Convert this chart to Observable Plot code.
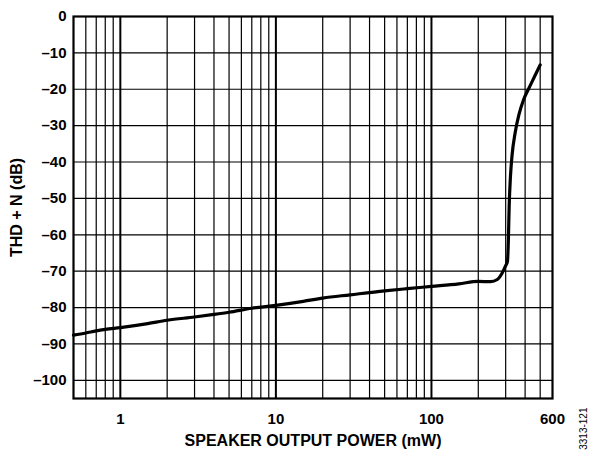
<!DOCTYPE html>
<html>
<head>
<meta charset="utf-8">
<script src="https://cdn.jsdelivr.net/npm/d3@7"></script>
<script src="https://cdn.jsdelivr.net/npm/@observablehq/plot@0.6"></script>
<style>
  html, body { margin: 0; padding: 0; background: #fff; }
  #chart svg text { font-weight: bold; }
</style>
</head>
<body>
<div id="chart"></div>
<script>
// Data (power in mW, THD+N in dB)
const power = [0.5, 0.6, 0.7, 0.8, 1, 1.5, 2, 3, 4, 5, 7, 10, 15, 20, 30, 50, 70, 100, 150, 200, 240, 265, 285, 300, 308, 312, 316, 322, 330, 345, 365, 390, 420, 460, 500];
const thdn  = [-87.6, -87.0, -86.4, -86.0, -85.5, -84.4, -83.5, -82.6, -81.9, -81.3, -80.2, -79.4, -78.3, -77.4, -76.5, -75.4, -74.8, -74.2, -73.5, -72.8, -72.9, -72.3, -70.5, -68.5, -67.3, -62, -52, -44, -38, -32, -27, -23, -20, -16.5, -13.3];

const xGrid = [0.6, 0.7, 0.8, 0.9, 2, 3, 4, 5, 6, 7, 8, 9, 20, 30, 40, 50, 60, 70, 80, 90, 200, 300, 400, 500];
const xMajor = [1, 10, 100];
const xTicks = [1, 10, 100, 600];
const yTicks = [0, -10, -20, -30, -40, -50, -60, -70, -80, -90, -100];
const yGrid = [-10, -20, -30, -40, -50, -60, -70, -80, -90, -100];
const xTitle = "SPEAKER OUTPUT POWER (mW)";
const yTitle = "THD + N (dB)";
const figId = "3313-121";

const data = power.map((p, i) => ({power: p, thdn: thdn[i]}));

const chart = Plot.plot({
  width: 595,
  height: 452,
  marginLeft: 73,
  marginRight: 43,
  marginTop: 16,
  marginBottom: 54,
  style: {fontFamily: "'Liberation Sans', Arial, sans-serif", fontWeight: "bold", fontSize: "15px", color: "#000", background: "#fff"},
  x: {type: "log", domain: [0.5, 600]},
  y: {domain: [-105, 0]},
  marks: [
    Plot.ruleX(xGrid, {stroke: "#000", strokeWidth: 1.2}),
    Plot.ruleX(xMajor, {stroke: "#000", strokeWidth: 2}),
    Plot.ruleY(yGrid, {stroke: "#000", strokeWidth: 1.2}),
    Plot.frame({stroke: "#000", strokeWidth: 2.2}),
    Plot.axisX({ticks: [], tickSize: 0,
      label: xTitle, labelAnchor: "center", labelArrow: "none", labelOffset: 47, fontSize: 16, fontWeight: "bold", fill: "#000"}),
    Plot.text(xTicks, {x: d => d, frameAnchor: "bottom", dy: 21, lineAnchor: "middle", text: d => String(d),
      fontSize: 15, fontWeight: "bold", fill: "#000"}),
    Plot.axisY({ticks: yTicks, tickSize: 0, tickPadding: 7,
      tickFormat: d => d === 0 ? "0" : "\u2013" + Math.abs(d),
      label: yTitle, labelAnchor: "center", labelArrow: "none", labelOffset: 63, fontSize: 15, fontWeight: "bold", fill: "#000"}),
    Plot.line(data, {x: "power", y: "thdn", stroke: "#000", strokeWidth: 3.2, curve: "monotone-x"}),
    Plot.text([figId], {frameAnchor: "bottom-right", dx: 34, dy: 9, rotate: -90, fontSize: 10})
  ]
});
chart.querySelectorAll("text").forEach(t => {
  if (t.textContent === figId) t.style.fontWeight = "normal";
  if (t.textContent === yTitle) t.style.fontSize = "16px";
});
document.getElementById("chart").appendChild(chart);
</script>
</body>
</html>
